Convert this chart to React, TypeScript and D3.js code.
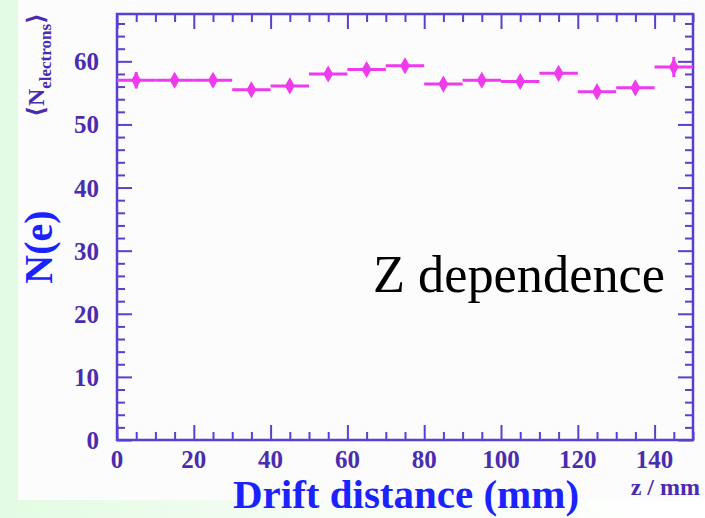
import React, { useEffect, useRef } from 'react';
import * as d3 from 'd3';

// bin centres (mm), mean electrons per bin and their errors
const zCentres = [5, 15, 25, 35, 45, 55, 65, 75, 85, 95, 105, 115, 125, 135, 145];
const nElectrons = [57.0, 57.0, 57.0, 55.5, 56.1, 58.0, 58.7, 59.3, 56.4, 57.0, 56.8, 58.1, 55.2, 55.8, 59.1];
const nErrors = [1.3, 0.9, 0.9, 0.9, 0.9, 0.9, 0.9, 0.9, 0.9, 0.9, 0.9, 0.9, 0.9, 0.9, 1.6];
const binHalfWidth = 5;
const xTicks = [0, 20, 40, 60, 80, 100, 120, 140];
const yTicks = [0, 10, 20, 30, 40, 50, 60];

const App: React.FC = () => {
  const svgRef = useRef<SVGSVGElement>(null);
  const width = 705;
  const height = 518;

  useEffect(() => {
    document.body.style.margin = '0';
    if (!svgRef.current) return;
    const svg = d3.select(svgRef.current);
    svg.selectAll('*').remove();

    const left = 117, right = 693, top = 14, bottom = 440;
    const axisColor = '#5a3fd0';
    const labelColor = '#4a2cb0';
    const markColor = '#ee3bee';
    const serif = '"Liberation Serif", "DejaVu Serif", serif';

    const x = d3.scaleLinear().domain([0, 150]).range([left, right]);
    const y = d3.scaleLinear().domain([0, 67.5]).range([bottom, top]);

    // фон
    const defs = svg.append('defs');
    const grad = defs.append('linearGradient').attr('id', 'greenFade');
    grad.append('stop').attr('offset', '0%').attr('stop-color', '#e2fbe2');
    grad.append('stop').attr('offset', '45%').attr('stop-color', '#f6fdf6');
    grad.append('stop').attr('offset', '100%').attr('stop-color', '#ffffff');
    svg.append('rect').attr('width', width).attr('height', height).attr('fill', '#fcfcfc');
    svg.append('rect').attr('y', 500).attr('width', width).attr('height', 18).attr('fill', 'url(#greenFade)');
    svg.append('rect').attr('width', 18).attr('height', height).attr('fill', '#e2fbe2');

    // оси с тиками внутрь
    const drawTicks = (g: d3.Selection<SVGGElement, unknown, null, undefined>) => {
      g.selectAll('.domain').remove();
      g.selectAll('line').attr('stroke', axisColor).attr('stroke-width', 2);
    };
    const minorX = d3.range(0, 151, 5).filter(v => v % 20 !== 0);
    const minorY = d3.range(0, 68, 2).filter(v => v % 10 !== 0);

    svg.append('g').attr('transform', `translate(0,${bottom})`)
      .call(d3.axisBottom(x).tickValues(minorX).tickSize(-8).tickFormat(() => '')).call(drawTicks);
    svg.append('g').attr('transform', `translate(0,${bottom})`)
      .call(d3.axisBottom(x).tickValues(xTicks).tickSize(-15).tickFormat(() => '')).call(drawTicks);
    svg.append('g').attr('transform', `translate(0,${top})`)
      .call(d3.axisTop(x).tickValues(minorX).tickSize(-8).tickFormat(() => '')).call(drawTicks);
    svg.append('g').attr('transform', `translate(0,${top})`)
      .call(d3.axisTop(x).tickValues(xTicks).tickSize(-15).tickFormat(() => '')).call(drawTicks);
    svg.append('g').attr('transform', `translate(${left},0)`)
      .call(d3.axisLeft(y).tickValues(minorY).tickSize(-8).tickFormat(() => '')).call(drawTicks);
    svg.append('g').attr('transform', `translate(${left},0)`)
      .call(d3.axisLeft(y).tickValues(yTicks).tickSize(-15).tickFormat(() => '')).call(drawTicks);
    svg.append('g').attr('transform', `translate(${right},0)`)
      .call(d3.axisRight(y).tickValues(minorY).tickSize(-8).tickFormat(() => '')).call(drawTicks);
    svg.append('g').attr('transform', `translate(${right},0)`)
      .call(d3.axisRight(y).tickValues(yTicks).tickSize(-15).tickFormat(() => '')).call(drawTicks);

    svg.append('rect')
      .attr('x', left).attr('y', top).attr('width', right - left).attr('height', bottom - top)
      .attr('fill', 'none').attr('stroke', axisColor).attr('stroke-width', 2.5);

    // подписи тиков
    svg.append('g').selectAll('text').data(xTicks).join('text')
      .attr('x', d => x(d)).attr('y', 468)
      .attr('text-anchor', 'middle')
      .attr('font-family', serif).attr('font-weight', 'bold').attr('font-size', 25)
      .attr('fill', labelColor).text(d => d);
    svg.append('g').selectAll('text').data(yTicks).join('text')
      .attr('x', 99).attr('y', d => y(d) + 9)
      .attr('text-anchor', 'end')
      .attr('font-family', serif).attr('font-weight', 'bold').attr('font-size', 25)
      .attr('fill', labelColor).text(d => d);

    // данные
    const pts = zCentres.map((z, i) => ({ z, n: nElectrons[i], e: nErrors[i] }));
    const data = svg.append('g');
    data.selectAll('line.h').data(pts).join('line').attr('class', 'h')
      .attr('x1', d => x(d.z - binHalfWidth)).attr('x2', d => x(d.z + binHalfWidth))
      .attr('y1', d => y(d.n)).attr('y2', d => y(d.n))
      .attr('stroke', markColor).attr('stroke-width', 3);
    data.selectAll('line.v').data(pts).join('line').attr('class', 'v')
      .attr('x1', d => x(d.z)).attr('x2', d => x(d.z))
      .attr('y1', d => y(d.n - d.e)).attr('y2', d => y(d.n + d.e))
      .attr('stroke', markColor).attr('stroke-width', 3);
    data.selectAll('path').data(pts).join('path')
      .attr('transform', d => `translate(${x(d.z)},${y(d.n)})`)
      .attr('d', d3.symbol(d3.symbolDiamond, 85)())
      .attr('fill', markColor);

    // тексты
    svg.append('text')
      .attr('x', 373).attr('y', 292)
      .attr('font-family', serif).attr('font-size', 53)
      .attr('textLength', 292).attr('lengthAdjust', 'spacingAndGlyphs')
      .attr('fill', '#000').text('Z dependence');

    svg.append('text')
      .attr('x', 406).attr('y', 508).attr('text-anchor', 'middle')
      .attr('font-family', serif).attr('font-weight', 'bold').attr('font-size', 41)
      .attr('fill', '#1a22ff').text('Drift distance (mm)');

    svg.append('text')
      .attr('x', 700).attr('y', 495).attr('text-anchor', 'end')
      .attr('font-family', serif).attr('font-weight', 'bold').attr('font-size', 24)
      .attr('fill', labelColor).text('z / mm');

    svg.append('text')
      .attr('transform', 'translate(52,247) rotate(-90)')
      .attr('text-anchor', 'middle')
      .attr('font-family', serif).attr('font-weight', 'bold').attr('font-size', 40)
      .attr('fill', '#1a22ff').text('N(e)');

    const nel = svg.append('text')
      .attr('transform', 'translate(44,65) rotate(-90)')
      .attr('text-anchor', 'middle')
      .attr('font-family', serif).attr('font-weight', 'bold').attr('font-size', 24)
      .attr('fill', labelColor);
    nel.append('tspan').text('⟨N');
    nel.append('tspan').attr('font-size', 17).attr('dy', 7).text('electrons');
    nel.append('tspan').attr('dy', -7).text('⟩');
  }, []);

  return <svg ref={svgRef} width={width} height={height} style={{ display: 'block' }} />;
};

export default App;
